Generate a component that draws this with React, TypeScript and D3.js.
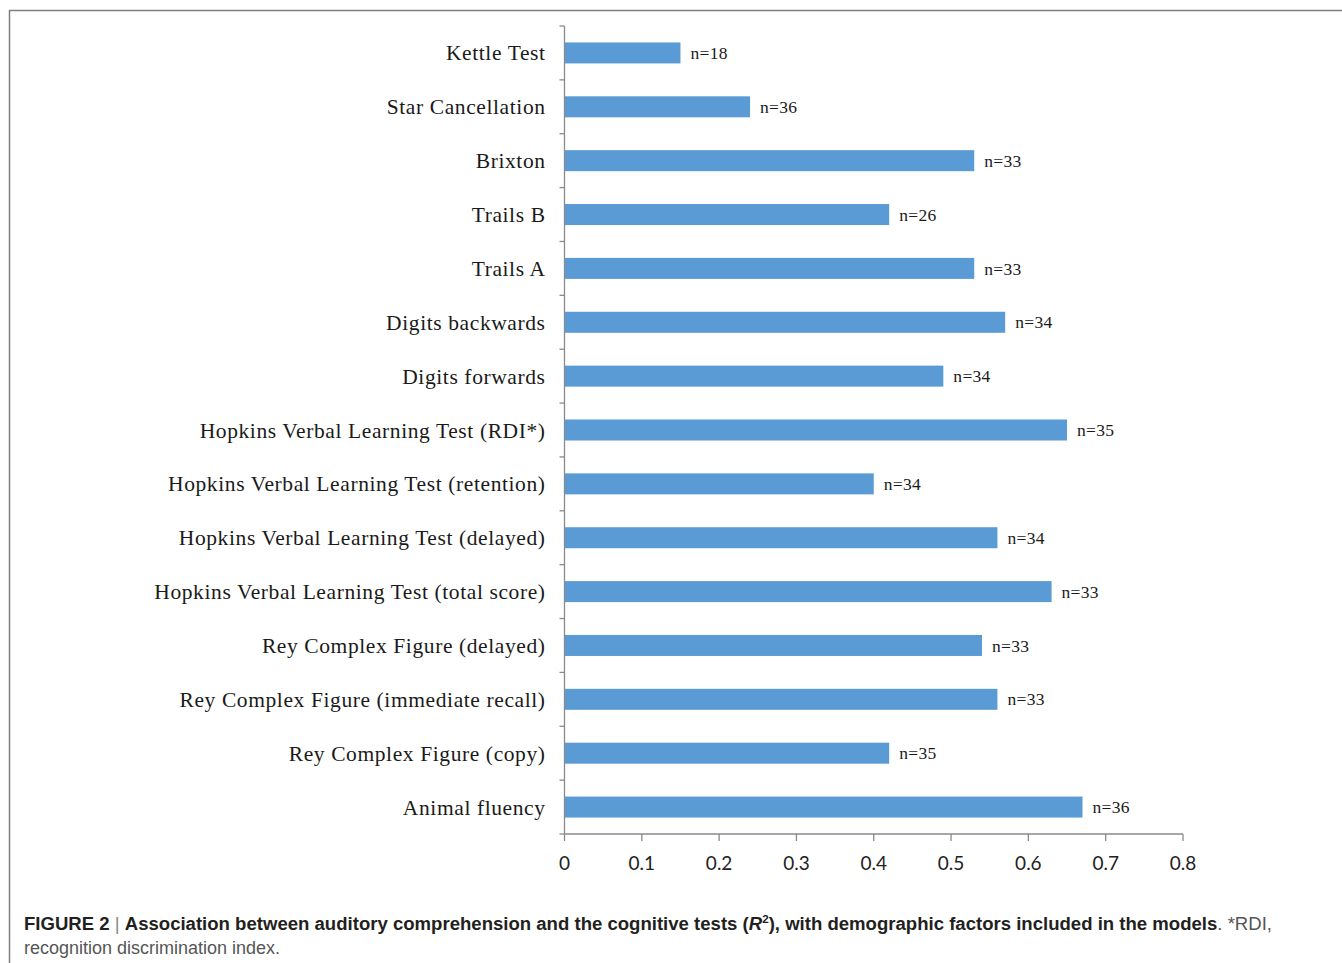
import * as d3 from "d3";

const tests = [
  "Kettle Test",
  "Star Cancellation",
  "Brixton",
  "Trails B",
  "Trails A",
  "Digits backwards",
  "Digits forwards",
  "Hopkins Verbal Learning Test (RDI*)",
  "Hopkins Verbal Learning Test (retention)",
  "Hopkins Verbal Learning Test (delayed)",
  "Hopkins Verbal Learning Test (total score)",
  "Rey Complex Figure (delayed)",
  "Rey Complex Figure (immediate recall)",
  "Rey Complex Figure (copy)",
  "Animal fluency",
];
const r2 = [0.15, 0.24, 0.53, 0.42, 0.53, 0.57, 0.49, 0.65, 0.4, 0.56, 0.63, 0.54, 0.56, 0.42, 0.67];
const nCounts = [18, 36, 33, 26, 33, 34, 34, 35, 34, 34, 33, 33, 33, 35, 36];
const xTicks = [0, 0.1, 0.2, 0.3, 0.4, 0.5, 0.6, 0.7, 0.8];

const W = 1342;
const H = 963;
const left = 564.5;
const right = 1183;
const top = 26;
const bottom = 834;

export default function App() {
  const x = d3.scaleLinear().domain([0, 0.8]).range([left, right]);
  const y = d3.scaleBand<string>().domain(tests).range([top, bottom]).paddingInner(0.61).paddingOuter(0.305);
  const step = y.step();
  const bounds = d3.range(tests.length + 1).map(i => top + i * step);
  const axisColor = "#8a8a8a";
  const serif = "'Liberation Serif', 'Times New Roman', serif";

  return (
    <svg width={W} height={H} style={{ position: "absolute", left: 0, top: 0, background: "#fff" }}>
      {/* frame */}
      <path d={`M9.5,${H} V10.5 H${W}`} fill="none" stroke="#7f7f7f" strokeWidth={1.5} />

      {/* bars */}
      {tests.map((t, i) => (
        <rect key={t} x={x(0)} y={y(t)} width={x(r2[i]) - x(0)} height={y.bandwidth()} fill="#5b9bd5" />
      ))}

      {/* y axis */}
      <line x1={left} x2={left} y1={top} y2={bottom} stroke={axisColor} strokeWidth={1.3} />
      {bounds.map(b => (
        <line key={b} x1={left - 5} x2={left} y1={b} y2={b} stroke={axisColor} strokeWidth={1.3} />
      ))}

      {/* x axis */}
      <line x1={left} x2={right} y1={bottom} y2={bottom} stroke={axisColor} strokeWidth={1.3} />
      {xTicks.map(v => (
        <g key={v}>
          <line x1={x(v)} x2={x(v)} y1={bottom} y2={bottom + 7} stroke={axisColor} strokeWidth={1.3} />
          <text x={x(v)} y={870} textAnchor="middle" fontFamily="Lato, 'Open Sans', sans-serif" fontSize={19} fill="#222">
            {v === 0 ? "0" : v.toFixed(1)}
          </text>
        </g>
      ))}

      {/* category labels */}
      {tests.map(t => (
        <text
          key={t}
          x={545.6}
          y={(y(t) ?? 0) + y.bandwidth() / 2}
          dy="0.35em"
          textAnchor="end"
          fontFamily={serif}
          fontSize={21.5}
          letterSpacing={0.6}
          fill="#1a1a1a"
        >
          {t}
        </text>
      ))}

      {/* n labels */}
      {tests.map((t, i) => (
        <text
          key={t + "n"}
          x={x(r2[i]) + 10}
          y={(y(t) ?? 0) + y.bandwidth() / 2}
          dy="0.35em"
          fontFamily={serif}
          fontSize={17.5}
          letterSpacing={0.3}
          fill="#1a1a1a"
        >
          {"n=" + nCounts[i]}
        </text>
      ))}

      {/* caption */}
      <text x={24} y={930} fontFamily="'Liberation Sans', Arial, sans-serif" fontSize={17.5} fill="#231f20" textLength={1248} lengthAdjust="spacingAndGlyphs">
        <tspan fontWeight="bold">FIGURE 2</tspan>
        <tspan fill="#888"> | </tspan>
        <tspan fontWeight="bold">Association between auditory comprehension and the cognitive tests (</tspan>
        <tspan fontWeight="bold" fontStyle="italic">R</tspan>
        <tspan fontWeight="bold" fontSize={11} dy={-7}>2</tspan>
        <tspan fontWeight="bold" dy={7}>), with demographic factors included in the models</tspan>
        <tspan fill="#555">. *RDI,</tspan>
      </text>
      <text x={24} y={954} fontFamily="'Liberation Sans', Arial, sans-serif" fontSize={17.5} fill="#555" textLength={256} lengthAdjust="spacingAndGlyphs">
        recognition discrimination index.
      </text>
    </svg>
  );
}
